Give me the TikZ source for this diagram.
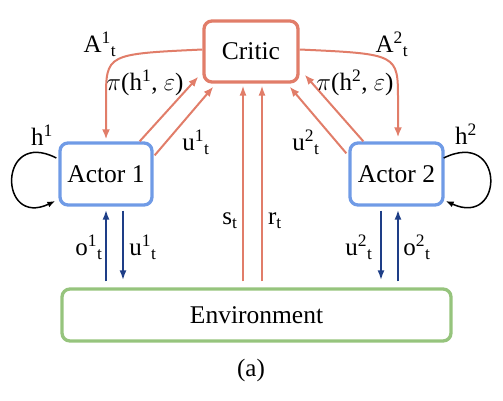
\documentclass[tikz,border=0pt]{standalone}
\usepackage{fontspec}
\setmainfont{Liberation Serif}
\usetikzlibrary{arrows.meta,calc}
\definecolor{crit}{RGB}{225,125,105}
\definecolor{actb}{RGB}{112,155,230}
\definecolor{envg}{RGB}{150,196,125}
\definecolor{navy}{RGB}{30,62,135}
\tikzset{
  box/.style={rounded corners=8pt, line width=3.3pt, inner sep=0pt, font=\fontsize{25.5}{30}\selectfont},
  lbl/.style={inner sep=0pt, font=\fontsize{25}{30}\selectfont},
  carrow/.style={draw=crit, line width=2pt, -{Latex[length=10pt,width=8pt]}},
  sarrow/.style={draw=crit, line width=1.5pt, -{Latex[length=10pt,width=7pt]}},
  barrow/.style={draw=navy, line width=2pt, -{Latex[length=10pt,width=7pt]}},
  loopar/.style={draw=black, line width=1.5pt, -{Latex[length=8pt,width=6pt]}}
}
\begin{document}
\begin{tikzpicture}[x=1pt,y=-1pt]
\useasboundingbox (0,0) rectangle (503,400);
\node[box, draw=crit, minimum width=94pt, minimum height=61pt] (critic) at (251,51.5) {Critic};
\node[box, draw=actb, minimum width=92pt, minimum height=62pt] (actor1) at (106,174) {Actor 1};
\node[box, draw=actb, minimum width=93pt, minimum height=62pt] (actor2) at (396.5,174) {Actor 2};
\node[box, draw=envg, minimum width=389pt, minimum height=52pt] (env) at (256.5,315) {Environment};
\node[lbl] (cap) at (251,370) {(a)};

% critic -> actors
\draw[carrow] ($(critic.west)+(0,-2)$) .. controls (106,54) .. (106,100) -- ($(actor1.north)+(0,-2)$);
\draw[carrow] ($(critic.east)+(0,-2)$) .. controls (398,54) .. (398,100) -- ($(actor2.north)+(1.5,-4)$);
% actors -> critic
\draw[carrow] ($(actor1.north east)+(-14,0)$) -- ($(critic.south west)+(-4,-7)$);
\draw[carrow] ($(actor1.north east)+(1,14)$) -- ($(critic.south west)+(11,3)$);
\draw[carrow] ($(actor2.north west)+(15,0)$) -- ($(critic.south east)+(5,-9)$);
\draw[carrow] ($(actor2.north west)+(-2,12)$) -- ($(critic.south east)+(-10,3)$);
% env -> critic
\draw[sarrow] ($(env.north)+(-13.5,-6)$) -- ($(critic.south)+(-8,2)$);
\draw[sarrow] ($(env.north)+(5.5,-6)$) -- ($(critic.south)+(11,2)$);
% env <-> actors
\draw[barrow] ($(env.north -| actor1.south)+(0,-6)$) -- ($(actor1.south)+(0,3)$);
\draw[barrow] ($(actor1.south)+(17,4)$) -- ($(env.north -| actor1.south)+(17,-7)$);
\draw[barrow] ($(actor2.south)+(-15.5,4)$) -- ($(env.north -| actor2.south)+(-15.5,-7)$);
\draw[barrow] ($(env.north -| actor2.south)+(1.5,-6)$) -- ($(actor2.south)+(1.5,3)$);
% self loops
\draw[loopar] ($(actor1.west)+(-2,-16)$) .. controls (-2,128) and (-2,228) .. ($(actor1.west)+(-3,27)$);
\draw[loopar] ($(actor2.east)+(-1,-16)$) .. controls (505,128) and (505,228) .. ($(actor2.east)+(1,27)$);

% labels
\node[lbl] (la1) at (100,44) {A\textsuperscript{1}\textsubscript{t}};
\node[lbl] (la2) at (392,44) {A\textsuperscript{2}\textsubscript{t}};
\node[lbl] (lp1) at (145,83) {$\pi$(h\textsuperscript{1}, $\varepsilon$)};
\node[lbl] (lp2) at (355,83) {$\pi$(h\textsuperscript{2}, $\varepsilon$)};
\node[lbl] (lu1) at (196,142) {u\textsuperscript{1}\textsubscript{t}};
\node[lbl] (lu2) at (306,142) {u\textsuperscript{2}\textsubscript{t}};
\node[lbl] (lh1) at (42,135) {h\textsuperscript{1}};
\node[lbl] (lh2) at (466,134) {h\textsuperscript{2}};
\node[lbl] (lo1) at (89,247) {o\textsuperscript{1}\textsubscript{t}};
\node[lbl] (lu1b) at (143,247) {u\textsuperscript{1}\textsubscript{t}};
\node[lbl] (ls) at (230,221) {s\textsubscript{t}};
\node[lbl] (lr) at (275,221) {r\textsubscript{t}};
\node[lbl] (lu2b) at (359,247) {u\textsuperscript{2}\textsubscript{t}};
\node[lbl] (lo2) at (417,247) {o\textsuperscript{2}\textsubscript{t}};
\end{tikzpicture}
\end{document}
